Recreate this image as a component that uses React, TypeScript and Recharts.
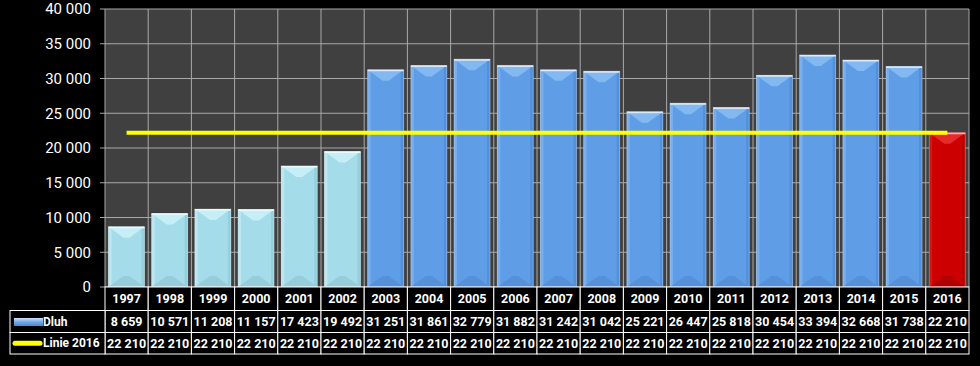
import { ComposedChart, Bar, Line, XAxis, YAxis, CartesianGrid } from 'recharts';

const YEARS = ['1997', '1998', '1999', '2000', '2001', '2002', '2003', '2004', '2005', '2006', '2007', '2008', '2009', '2010', '2011', '2012', '2013', '2014', '2015', '2016'];
const DLUH = [8659, 10571, 11208, 11157, 17423, 19492, 31251, 31861, 32779, 31882, 31242, 31042, 25221, 26447, 25818, 30454, 33394, 32668, 31738, 22210];
const LINIE_2016 = [22210, 22210, 22210, 22210, 22210, 22210, 22210, 22210, 22210, 22210, 22210, 22210, 22210, 22210, 22210, 22210, 22210, 22210, 22210, 22210];
const Y_TICKS = [0, 5000, 10000, 15000, 20000, 25000, 30000, 35000, 40000];

const data = YEARS.map((year, i) => ({ year, dluh: DLUH[i], linie: LINIE_2016[i] }));

const W = 980;
const H = 366;
const PLOT_LEFT = 105;
const PLOT_RIGHT = 11;
const PLOT_TOP = 9;
const AXIS_H = 79;
const BAND = (W - PLOT_LEFT - PLOT_RIGHT) / YEARS.length;
const ROWS = [0, 23.5, 45.5, 67];
const FONT = 'Roboto, "Liberation Sans", Arial, sans-serif';

const fmt = (v: number) => String(v).replace(/\B(?=(\d{3})+(?!\d))/g, ' ');

const TONES = {
  light: { base: '#a4dce9', top: '#c6eef7', left: '#bde6f0', right: '#94d0de', bottom: '#96cddb', edge: '#e6fbff' },
  blue: { base: '#5f9ee7', top: '#83b8f0', left: '#78aeed', right: '#5290dc', bottom: '#5590d8', edge: '#d6e8fc' },
  red: { base: '#cc0000', top: '#e52a2a', left: '#d81414', right: '#b80000', bottom: '#b00000', edge: '#f2b0b0' },
};

function toneFor(year: string) {
  if (year === '2016') return TONES.red;
  if (Number(year) <= 2002) return TONES.light;
  return TONES.blue;
}

function BevelBar(props: any) {
  const { x, y, width: w, height: h, payload } = props;
  if (!h || h <= 0) return null;
  const t = toneFor(payload.year);
  const d = Math.min(11, h / 2);
  const s = 3;
  const mid = x + w / 2;
  return (
    <g>
      <rect x={x} y={y} width={w} height={h} fill={t.base} />
      <rect x={x} y={y} width={s} height={h} fill={t.left} />
      <rect x={x + w - s} y={y} width={s} height={h} fill={t.right} />
      <polygon points={`${x},${y} ${x + w},${y} ${mid + 3},${y + d} ${mid - 3},${y + d}`} fill={t.top} />
      <polygon points={`${x},${y + h} ${x + w},${y + h} ${mid + 3},${y + h - d} ${mid - 3},${y + h - d}`} fill={t.bottom} />
      <line x1={x} y1={y + 0.75} x2={x + w} y2={y + 0.75} stroke={t.edge} strokeWidth={1.5} />
      <rect x={x} y={y} width={w} height={h} fill="none" stroke="rgba(255,255,255,0.3)" strokeWidth={1} />
    </g>
  );
}

function TableTick(props: any) {
  const { x, y, payload, index } = props;
  const i = typeof index === 'number' ? index : payload.index;
  const left = x - BAND / 2;
  const cell = (row: number, text: string) => (
    <g key={row}>
      <rect x={left} y={y + ROWS[row]} width={BAND} height={ROWS[row + 1] - ROWS[row]} fill="#000" stroke="#fff" strokeWidth={1} />
      <text x={x} y={y + (ROWS[row] + ROWS[row + 1]) / 2} textAnchor="middle" dominantBaseline="central" fill="#fff" fontSize={12.5} fontWeight={700} fontFamily={FONT}>
        {text}
      </text>
    </g>
  );
  const hx = left - 95;
  return (
    <g>
      {cell(0, payload.value)}
      {cell(1, fmt(DLUH[i]))}
      {cell(2, fmt(LINIE_2016[i]))}
      {i === 0 && (
        <g>
          <defs>
            <linearGradient id="dluhSwatch" x1="0" y1="0" x2="0" y2="1">
              <stop offset="0%" stopColor="#cfe4fb" />
              <stop offset="50%" stopColor="#6fa8ea" />
              <stop offset="100%" stopColor="#4d86cf" />
            </linearGradient>
          </defs>
          <rect x={hx} y={y + ROWS[1]} width={95} height={ROWS[2] - ROWS[1]} fill="#000" stroke="#fff" strokeWidth={1} />
          <rect x={hx} y={y + ROWS[2]} width={95} height={ROWS[3] - ROWS[2]} fill="#000" stroke="#fff" strokeWidth={1} />
          <rect x={hx + 4} y={y + ROWS[1] + 7.5} width={29} height={8} fill="url(#dluhSwatch)" />
          <text x={hx + 33} y={y + (ROWS[1] + ROWS[2]) / 2} dominantBaseline="central" fill="#fff" fontSize={12} fontWeight={700} fontFamily={FONT}>
            Dluh
          </text>
          <line x1={hx + 5} y1={y + (ROWS[2] + ROWS[3]) / 2} x2={hx + 30} y2={y + (ROWS[2] + ROWS[3]) / 2} stroke="#ffff00" strokeWidth={5} strokeLinecap="round" />
          <text x={hx + 33} y={y + (ROWS[2] + ROWS[3]) / 2} dominantBaseline="central" fill="#fff" fontSize={12} fontWeight={700} fontFamily={FONT}>
            Linie 2016
          </text>
        </g>
      )}
    </g>
  );
}

export default function App() {
  const vPoints = YEARS.map((_, i) => PLOT_LEFT + i * BAND).concat([W - PLOT_RIGHT]);
  return (
    <div style={{ width: W, height: H, background: '#000' }}>
      <style>{`body{margin:0;background:#000}`}</style>
      <ComposedChart
        width={W}
        height={H}
        data={data}
        margin={{ top: PLOT_TOP, right: PLOT_RIGHT, bottom: 0, left: 0 }}
        barCategoryGap="8%"
      >
        <CartesianGrid fill="#404040" fillOpacity={1} stroke="#a8a8a8" strokeWidth={1} verticalPoints={vPoints} />
        <XAxis
          dataKey="year"
          height={AXIS_H}
          axisLine={false}
          tickLine={false}
          tickSize={0}
          tickMargin={0}
          interval={0}
          tick={<TableTick />}
        />
        <YAxis
          width={PLOT_LEFT}
          domain={[0, 40000]}
          ticks={Y_TICKS}
          axisLine={false}
          tickLine={{ stroke: '#a8a8a8' }}
          tickSize={5}
          tickMargin={9}
          tickFormatter={fmt}
          tick={{ fill: '#fff', fontSize: 15, fontFamily: FONT }}
        />
        <Bar dataKey="dluh" shape={<BevelBar />} isAnimationActive={false} />
        <Line type="linear" dataKey="linie" stroke="#ffff00" strokeWidth={4} dot={false} activeDot={false} isAnimationActive={false} />
      </ComposedChart>
    </div>
  );
}
